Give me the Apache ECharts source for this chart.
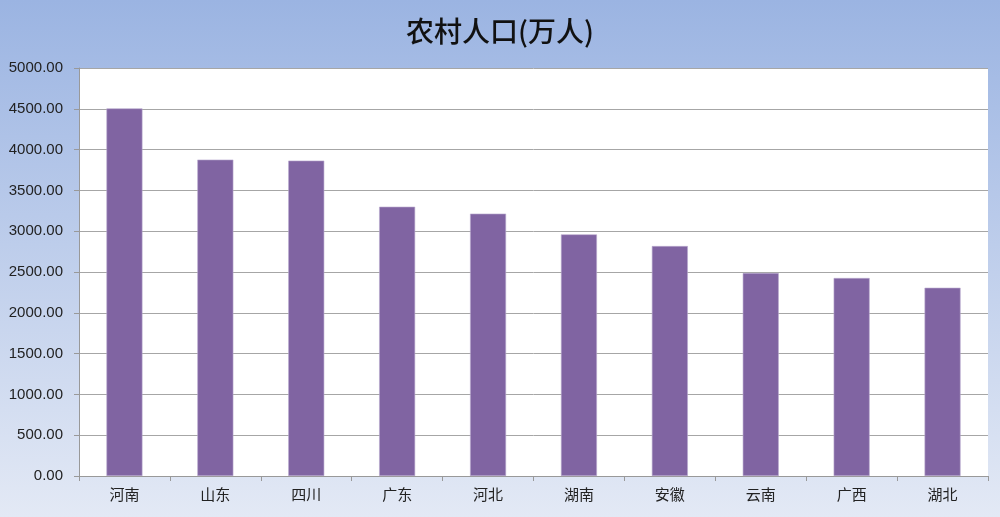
<!DOCTYPE html>
<html>
<head>
<meta charset="utf-8">
<script src="https://cdn.jsdelivr.net/npm/echarts@6/dist/echarts.min.js"></script>
<style>
  html, body { margin: 0; padding: 0; }
  #chart { width: 1000px; height: 517px; }
</style>
</head>
<body>
<div id="chart"></div>
<script>
  // 各省农村人口(万人)
  const provinces = ['河南', '山东', '四川', '广东', '河北', '湖南', '安徽', '云南', '广西', '湖北'];
  const ruralPop = [4505, 3877, 3865, 3300, 3215, 2961, 2818, 2487, 2426, 2307];
  const yTicks = { min: 0, max: 5000, interval: 500 };

  const chart = echarts.init(document.getElementById('chart'));
  chart.setOption({
    backgroundColor: {
      type: 'linear', x: 0, y: 0, x2: 0, y2: 1,
      colorStops: [
        { offset: 0, color: '#9bb4e2' },
        { offset: 1, color: '#e3e9f5' }
      ]
    },
    title: {
      text: '农村人口(万人)',
      left: 'center',
      top: 12,
      textStyle: { fontFamily: 'Noto Sans CJK SC', fontSize: 28, fontWeight: 500, color: '#111' }
    },
    grid: { left: 79, right: 12, top: 68, bottom: 41, show: true, backgroundColor: '#fff', borderWidth: 0 },
    xAxis: {
      type: 'category',
      data: provinces,
      axisLine: { lineStyle: { color: '#999', width: 1 } },
      axisTick: { show: true, length: 5, lineStyle: { color: '#999' } },
      axisLabel: { fontFamily: 'Noto Sans CJK SC', fontSize: 15, color: '#222', margin: 11 }
    },
    yAxis: {
      type: 'value',
      min: yTicks.min, max: yTicks.max, interval: yTicks.interval,
      axisLine: { show: true, lineStyle: { color: '#999' } },
      axisTick: { show: true, length: 5, lineStyle: { color: '#999' } },
      axisLabel: { fontFamily: 'Liberation Sans', fontSize: 15, color: '#222', margin: 16, formatter: v => v.toFixed(2) },
      splitLine: { lineStyle: { color: '#a6a6a6', width: 1 } }
    },
    series: [{
      type: 'bar',
      data: ruralPop,
      barWidth: 36,
      itemStyle: { color: '#8064a2', borderColor: '#b9a9cf', borderWidth: 0.6 }
    }]
  });
</script>
</body>
</html>
